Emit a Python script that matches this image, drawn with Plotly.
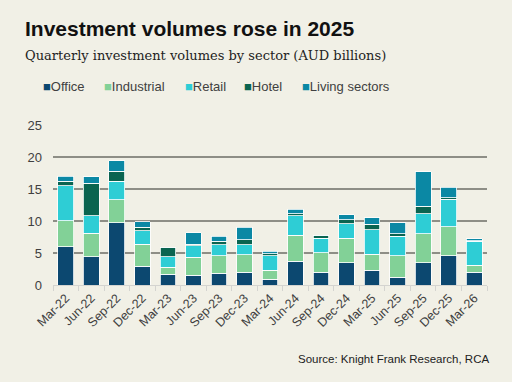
import plotly.graph_objects as go

quarters = ["Mar-22", "Jun-22", "Sep-22", "Dec-22", "Mar-23", "Jun-23", "Sep-23", "Dec-23",
            "Mar-24", "Jun-24", "Sep-24", "Dec-24", "Mar-25", "Jun-25", "Sep-25", "Dec-25", "Mar-26"]
office =      [6.0, 4.4, 9.7, 2.9, 1.7, 1.5, 1.8, 2.0, 0.9, 3.75, 2.0, 3.5, 2.3, 1.2, 3.5, 4.6, 2.0]
industrial =  [4.05, 3.7, 3.6, 3.5, 1.1, 2.8, 2.8, 2.7, 1.4, 4.05, 3.05, 3.8, 2.5, 3.4, 4.5, 4.5, 1.1]
retail =      [5.45, 2.7, 2.9, 2.1, 1.6, 1.8, 1.7, 1.6, 2.3, 3.0, 2.25, 2.3, 3.8, 3.0, 3.1, 4.3, 3.7]
hotel =       [0.7, 5.1, 1.6, 0.5, 1.4, 0.3, 0.5, 0.8, 0.3, 0.3, 0.4, 0.6, 0.9, 0.4, 1.2, 0.2, 0.1]
living =      [0.8, 1.0, 1.6, 0.9, 0.1, 1.8, 0.8, 1.9, 0.4, 0.7, 0.1, 0.8, 1.0, 1.7, 5.4, 1.7, 0.3]

series = [
    ("Office", office, "#0c4870"),
    ("Industrial", industrial, "#82d197"),
    ("Retail", retail, "#2ecdd5"),
    ("Hotel", hotel, "#0a6450"),
    ("Living sectors", living, "#0b88a4"),
]
legend_x = [41, 102, 183, 242, 300]
y_ticks = [0, 5, 10, 15, 20, 25]

BG = "#f1f0e6"
W, H = 512, 382
ML, MR, MT, MB = 53, 25, 125, 97
PW, PH = W - ML - MR, H - MT - MB


def px(x):
    return (x - ML) / PW


def py(y):
    return (H - MB - y) / PH


fig = go.Figure()
for name, vals, col in series:
    fig.add_trace(go.Bar(
        x=quarters, y=vals, name=name,
        marker=dict(color=col, line=dict(color="#ffffff", width=0.8)),
        showlegend=False,
    ))

for (name, vals, col), lx in zip(series, legend_x):
    fig.add_annotation(
        x=px(lx), y=py(86), xref="paper", yref="paper",
        xanchor="left", yanchor="middle", showarrow=False,
        text=f"<span style='color:{col};font-size:13px'>■</span>{name}",
        font=dict(family="Liberation Sans, Arial, sans-serif", size=13, color="#404040"),
    )

fig.add_annotation(
    x=px(23), y=py(29), xref="paper", yref="paper", xanchor="left", yanchor="middle",
    showarrow=False, text="<b>Investment volumes rose in 2025</b>",
    font=dict(family="Liberation Sans, Arial, sans-serif", size=21, color="#111111"),
)
fig.add_annotation(
    x=px(23), y=py(55), xref="paper", yref="paper", xanchor="left", yanchor="middle",
    showarrow=False, text="Quarterly investment volumes by sector (AUD billions)",
    font=dict(family="DejaVu Serif, Georgia, serif", size=13, color="#222222"),
)
fig.add_annotation(
    x=px(491), y=py(359), xref="paper", yref="paper", xanchor="right", yanchor="middle",
    showarrow=False, text="Source: Knight Frank Research, RCA",
    font=dict(family="Liberation Sans, Arial, sans-serif", size=11.5, color="#222222"),
)

fig.update_layout(
    width=W, height=H,
    barmode="stack", bargap=0.385,
    paper_bgcolor=BG, plot_bgcolor=BG,
    margin=dict(l=ML, r=MR, t=MT, b=MB),
    font=dict(family="Liberation Sans, Arial, sans-serif", size=12, color="#404040"),
    xaxis=dict(
        tickangle=-45, showgrid=False, showline=True, linecolor="#d4d4d0", linewidth=1,
        ticks="outside", tickson="boundaries", ticklen=5, tickcolor="#d4d4d0",
        tickfont=dict(size=12.5, color="#404040"),
    ),
    yaxis=dict(
        range=[0, 25], tickvals=y_ticks, showgrid=True, gridcolor="#8e8e86", gridwidth=1.5,
        zeroline=False, ticklabelstandoff=10, tickfont=dict(size=13, color="#404040"),
    ),
)

fig.write_html(
    "out.html",
    config={"displayModeBar": False},
    post_script="document.body.style.margin='0';document.body.style.overflow='hidden';",
)
